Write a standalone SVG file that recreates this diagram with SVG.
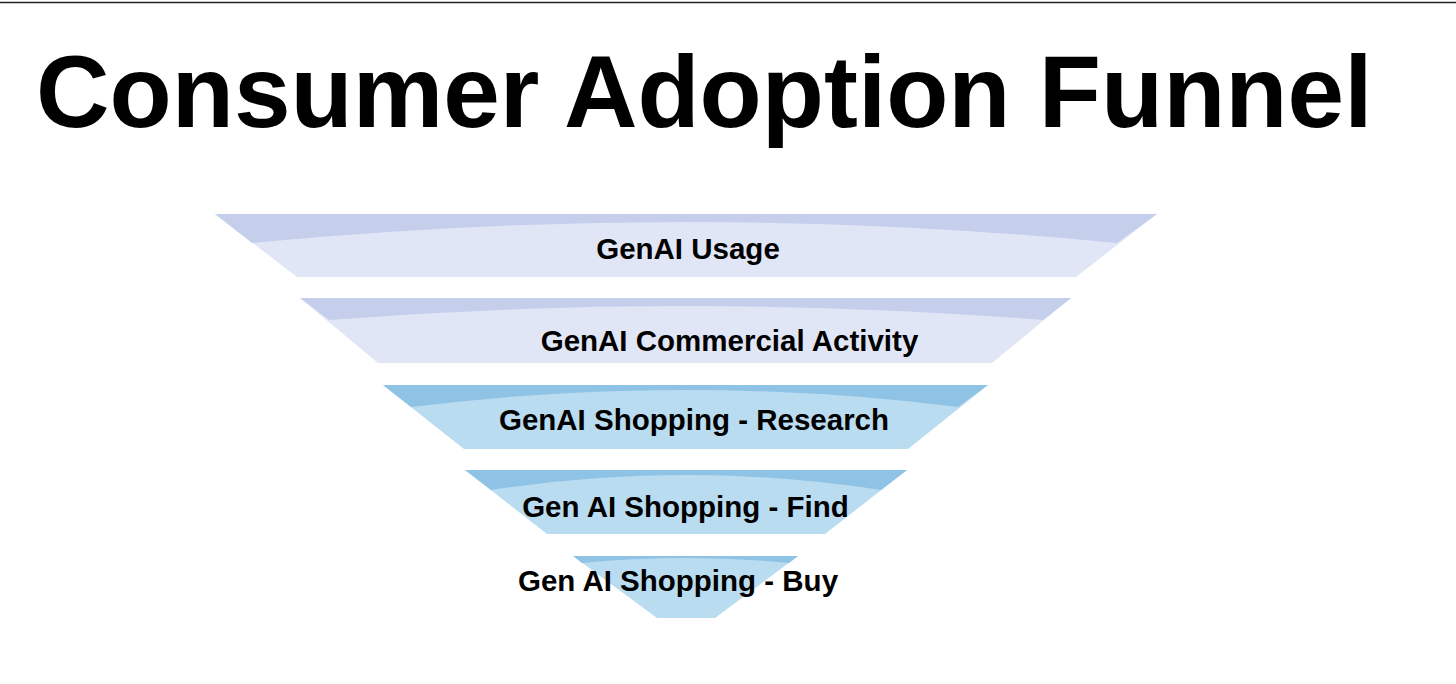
<svg xmlns="http://www.w3.org/2000/svg" width="1456" height="684" viewBox="0 0 1456 684">
  <style>
    .title { font-family: "Liberation Sans", Arial, sans-serif; font-weight: bold; font-size: 101.8px; fill: #000; }
    .label { font-family: "Liberation Sans", Arial, sans-serif; font-weight: bold; font-size: 29.5px; fill: #000; text-anchor: middle; }
    .lavLight { fill: #e1e6f6; }
    .lavDark { fill: #c5cfec; }
    .blueLight { fill: #badcf0; }
    .blueDark { fill: #8fc3e6; }
  </style>
  <rect x="0" y="0" width="1456" height="684" fill="#ffffff"/>
  <line x1="0" y1="2.5" x2="1456" y2="2.5" stroke="#222" stroke-width="1.6"/>
  <text class="title" x="36" y="127">Consumer Adoption Funnel</text>

  <g id="band1">
    <polygon class="lavLight" points="215,214 1157,214 1076,277 297,277"/>
    <path class="lavDark" d="M215,214 L1157,214 L1117,243 Q686,201 252,243 Z"/>
    <text class="label" x="688" y="259">GenAI Usage</text>
  </g>
  <g id="band2">
    <polygon class="lavLight" points="300,298 1071,298 992,363 378,363"/>
    <path class="lavDark" d="M300,298 L1071,298 L1043,320 Q686,292 329,320 Z"/>
    <text class="label" x="729.5" y="351">GenAI Commercial Activity</text>
  </g>
  <g id="band3">
    <polygon class="blueLight" points="383,385 988,385 908,449 464,449"/>
    <path class="blueDark" d="M383,385 L988,385 L958,407 Q686,373 411,407 Z"/>
    <text class="label" x="694" y="430">GenAI Shopping - Research</text>
  </g>
  <g id="band4">
    <polygon class="blueLight" points="465,470 907,470 825,534 547,534"/>
    <path class="blueDark" d="M465,470 L907,470 L881,490 Q686,460 491,490 Z"/>
    <text class="label" x="685.5" y="517">Gen AI Shopping - Find</text>
  </g>
  <g id="band5">
    <polygon class="blueLight" points="573,556 798,556 715,618 657,618"/>
    <path class="blueDark" d="M573,556 L798,556 L789,563 Q686,553 582,563 Z"/>
    <text class="label" x="678" y="591">Gen AI Shopping - Buy</text>
  </g>
  <g id="connectors"></g>
</svg>
